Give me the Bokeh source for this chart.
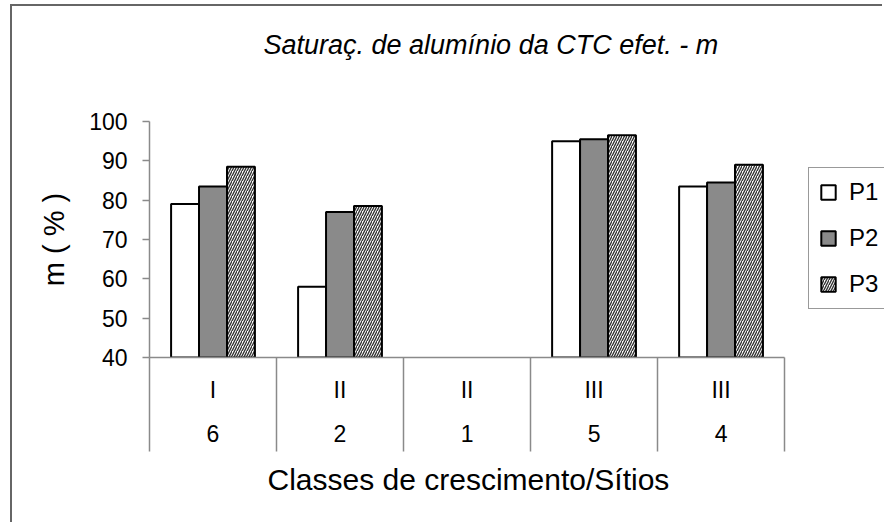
from bokeh.plotting import figure
from bokeh.models import (Range1d, LinearAxis, FixedTicker, Legend,
                          LegendItem, ColumnDataSource, Title)
from bokeh.transform import dodge
from bokeh.embed import file_html
from bokeh.resources import INLINE

# ---- data ----
sites = ["6", "2", "1", "5", "4"]
classes = ["I", "II", "II", "III", "III"]
series = ["P1", "P2", "P3"]
p1 = [79.0, 58.0, float("nan"), 95.0, 83.5]
p2 = [83.5, 77.0, float("nan"), 95.5, 84.5]
p3 = [88.5, 78.5, float("nan"), 96.5, 89.0]
y_ticks = [40, 50, 60, 70, 80, 90, 100]

title_text = "Saturaç. de alumínio da CTC efet. - m"
x_title = "Classes de crescimento/Sítios"
y_title = "m ( % )"

FONT = "Liberation Sans"
GRAY = "#8a8a8a"

n = len(sites)
centers = [i + 0.5 for i in range(n)]          # category centres on a 0..n scale
bounds = [float(i) for i in range(n + 1)]      # category boundaries
legend_room = 0.787                            # extra x room right of the categories for the legend

src = ColumnDataSource(dict(xc=centers, sites=sites, p1=p1, p2=p2, p3=p3))

p = figure(width=872, height=518,
           x_range=Range1d(0, n + legend_room),
           y_range=Range1d(40, 100),
           output_backend="svg", toolbar_location=None,
           x_axis_location=None,
           min_border_left=137, min_border_right=0,
           min_border_top=115, min_border_bottom=167)

p.outline_line_color = None
p.grid.visible = False
p.background_fill_color = "white"
p.border_fill_color = "white"
p.styles = {"margin-left": "10px", "margin-top": "4px",
            "border-left": "2px solid #666666", "border-top": "2px solid #666666"}

# title (outermost) + spacer title between it and the frame
p.title.text = title_text
p.title.text_font = FONT
p.title.text_font_style = "italic"
p.title.text_font_size = "27px"
p.title.align = "left"
p.title.offset = 114
p.title.standoff = 0
p.title.vertical_align = "middle"
p.title.text_color = "black"
spacer = Title(text=" ", text_font_size="10px", standoff=48, text_color="white")
p.add_layout(spacer, "above")

# bars
w = 0.22
r1 = p.vbar(x=dodge("xc", -w), top="p1", bottom=40, width=w,
            source=src, fill_color="white", line_color="black", line_width=2)
r2 = p.vbar(x=dodge("xc", 0), top="p2", bottom=40, width=w,
            source=src, fill_color="#8a8a8a", line_color="black", line_width=2)
r3 = p.vbar(x=dodge("xc", w), top="p3", bottom=40, width=w,
            source=src, fill_color="white", hatch_pattern="/", hatch_color="#333333",
            hatch_scale=5, hatch_weight=1.4, line_color="black", line_width=2)

# y axis
ya = p.yaxis[0]
ya.ticker = FixedTicker(ticks=y_ticks)
ya.axis_line_color = GRAY
ya.axis_line_width = 1.5
ya.major_tick_line_color = GRAY
ya.major_tick_line_width = 1.5
ya.major_tick_out = 7
ya.major_tick_in = 0
ya.minor_tick_line_color = None
ya.major_label_text_font = FONT
ya.major_label_text_font_size = "23px"
ya.major_label_text_color = "black"
ya.major_label_standoff = 15
ya.axis_label = y_title
ya.axis_label_text_font = FONT
ya.axis_label_text_font_size = "29px"
ya.axis_label_text_font_style = "normal"
ya.axis_label_text_color = "black"
ya.axis_label_standoff = 16

# x axes (two label rows + category separators)
ax1 = LinearAxis(ticker=FixedTicker(ticks=centers, minor_ticks=bounds),
                 bounds=(0, n),
                 major_label_overrides={c: t for c, t in zip(centers, classes)},
                 axis_line_color=GRAY, axis_line_width=1.5,
                 major_tick_in=0, major_tick_out=0, major_tick_line_color=None,
                 minor_tick_in=-94, minor_tick_out=0, minor_tick_line_color=GRAY,
                 minor_tick_line_width=1.5,
                 major_label_text_font=FONT, major_label_text_font_size="23px",
                 major_label_text_color="black", major_label_standoff=19)
ax2 = LinearAxis(ticker=FixedTicker(ticks=centers),
                 bounds=(0, n),
                 major_label_overrides={c: t for c, t in zip(centers, sites)},
                 axis_line_color=None, major_tick_line_color=None,
                 minor_tick_line_color=None,
                 major_tick_in=0, major_tick_out=0,
                 major_label_text_font=FONT, major_label_text_font_size="23px",
                 major_label_text_color="black", major_label_standoff=19)
p.add_layout(ax1, "below")
p.add_layout(ax2, "below")

# x-axis title, centred under the categories (not under the legend room)
xt = Title(text=x_title, text_font=FONT, text_font_size="30px", text_font_style="normal",
           text_color="black", align="left", offset=118, standoff=34,
           vertical_align="middle")
p.add_layout(xt, "below")

# legend
legend = Legend(items=[LegendItem(label=s, renderers=[r]) for s, r in zip(series, [r1, r2, r3])],
                location=(659, 48), margin=0, padding=10, spacing=18,
                glyph_width=18, glyph_height=18, label_height=25, label_standoff=12,
                label_text_font=FONT, label_text_font_size="24px", label_text_color="black",
                border_line_color="#333333", border_line_width=1,
                background_fill_color="white", background_fill_alpha=1)
p.add_layout(legend)

open("out.html", "w").write(file_html(p, INLINE))
